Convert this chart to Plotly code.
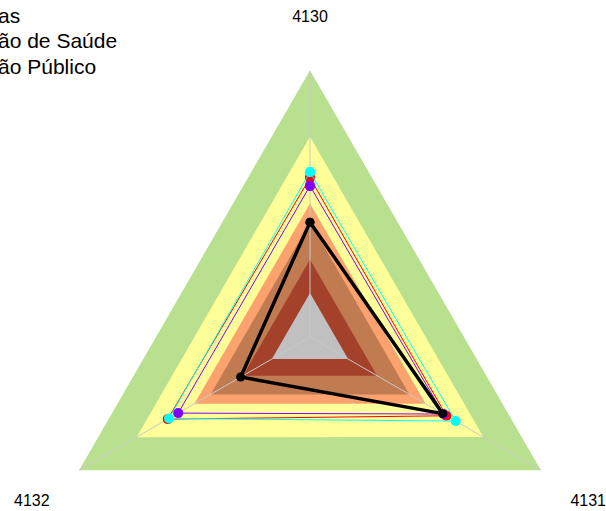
import plotly.graph_objects as go

# ---- data ----
categories = ["4130", "4131", "4132"]
top_labels = ["4130", "", ""]
bottom_labels = ["", "4131", "4132"]

band_levels = [100, 75, 50, 43, 29, 16.5]
band_colors = ["#B9E08F", "#FFFF99", "#FCA26E", "#C17B51", "#A4412B", "#C0C0C0"]

legend_names = ["as", "ão de Saúde", "ão Público"]
black_values = [43, 57.4, 30]
red_values = [59.6, 59.0, 61.5]
cyan_values = [61.8, 63.0, 61.0]
purple_values = [56.6, 57.7, 57.0]

radial_max = 100

fig = go.Figure()

# background bands (filled triangles)
for lvl, col in zip(band_levels, band_colors):
    fig.add_trace(go.Scatterpolar(
        r=[lvl] * len(categories) + [lvl], theta=categories + categories[:1],
        mode="lines", fill="toself", fillcolor=col,
        line=dict(color=col, width=0), showlegend=False, hoverinfo="skip"))

# spokes
spoke_r, spoke_t = [], []
for c in categories:
    spoke_r += [0, radial_max, None]
    spoke_t += [c, c, None]
fig.add_trace(go.Scatterpolar(r=spoke_r, theta=spoke_t, mode="lines",
                              line=dict(color="#C8C8C8", width=1),
                              showlegend=False, hoverinfo="skip", connectgaps=False))

series = [
    (red_values, "#FF0000", 1, 10, legend_names[1], True, "legend2"),
    (cyan_values, "#00FFFF", 1, 10, legend_names[2], True, "legend3"),
    (purple_values, "#8000FF", 1, 10, "Outro", False, "legend"),
    (black_values, "#000000", 3.5, 9, legend_names[0], True, "legend"),
]
for vals, col, w, ms, name, sl, lg in series:
    fig.add_trace(go.Scatterpolar(
        r=vals + vals[:1], theta=categories + categories[:1],
        mode="lines+markers", name=name, showlegend=sl, legend=lg,
        line=dict(color=col, width=w), marker=dict(color=col, size=ms)))

# overlay subplot that only carries the lower category labels
fig.add_trace(go.Scatterpolar(r=[0] * len(categories), theta=categories, mode="markers",
                              marker=dict(opacity=0), subplot="polar2",
                              showlegend=False, hoverinfo="skip"))

W, H = 606, 620
LFS = 21


def legend_cfg(top_px):
    return dict(x=-42 / W, xanchor="left", y=1 - top_px / H, yanchor="top",
                font=dict(size=LFS), bgcolor="rgba(0,0,0,0)")


def polar_cfg(shift_px, ticklen, ticktext):
    return dict(
        domain=dict(x=[43 / W, 577 / W],
                    y=[(H - 604 - shift_px) / H, (H - 70 - shift_px) / H]),
        bgcolor="rgba(0,0,0,0)",
        gridshape="linear",
        radialaxis=dict(range=[0, radial_max], visible=False, showgrid=False),
        angularaxis=dict(direction="clockwise", rotation=90, showgrid=False,
                         showline=False, ticks="outside", ticklen=ticklen,
                         tickcolor="rgba(0,0,0,0)", tickfont=dict(size=16),
                         categoryorder="array", categoryarray=categories,
                         tickmode="array", tickvals=categories, ticktext=ticktext),
    )


fig.update_layout(
    width=W, height=H,
    margin=dict(l=0, r=0, t=0, b=0, autoexpand=False),
    paper_bgcolor="white",
    font=dict(family="Liberation Sans, Arial, sans-serif", color="black"),
    legend=legend_cfg(-5.8),
    legend2=legend_cfg(19.2),
    legend3=legend_cfg(45.2),
    polar=polar_cfg(0, 41, top_labels),
    polar2=polar_cfg(6, 30, bottom_labels),
)

fig.write_html("out.html", config={"displayModeBar": False},
               post_script="document.body.style.margin='0';document.body.style.overflow='hidden';")
